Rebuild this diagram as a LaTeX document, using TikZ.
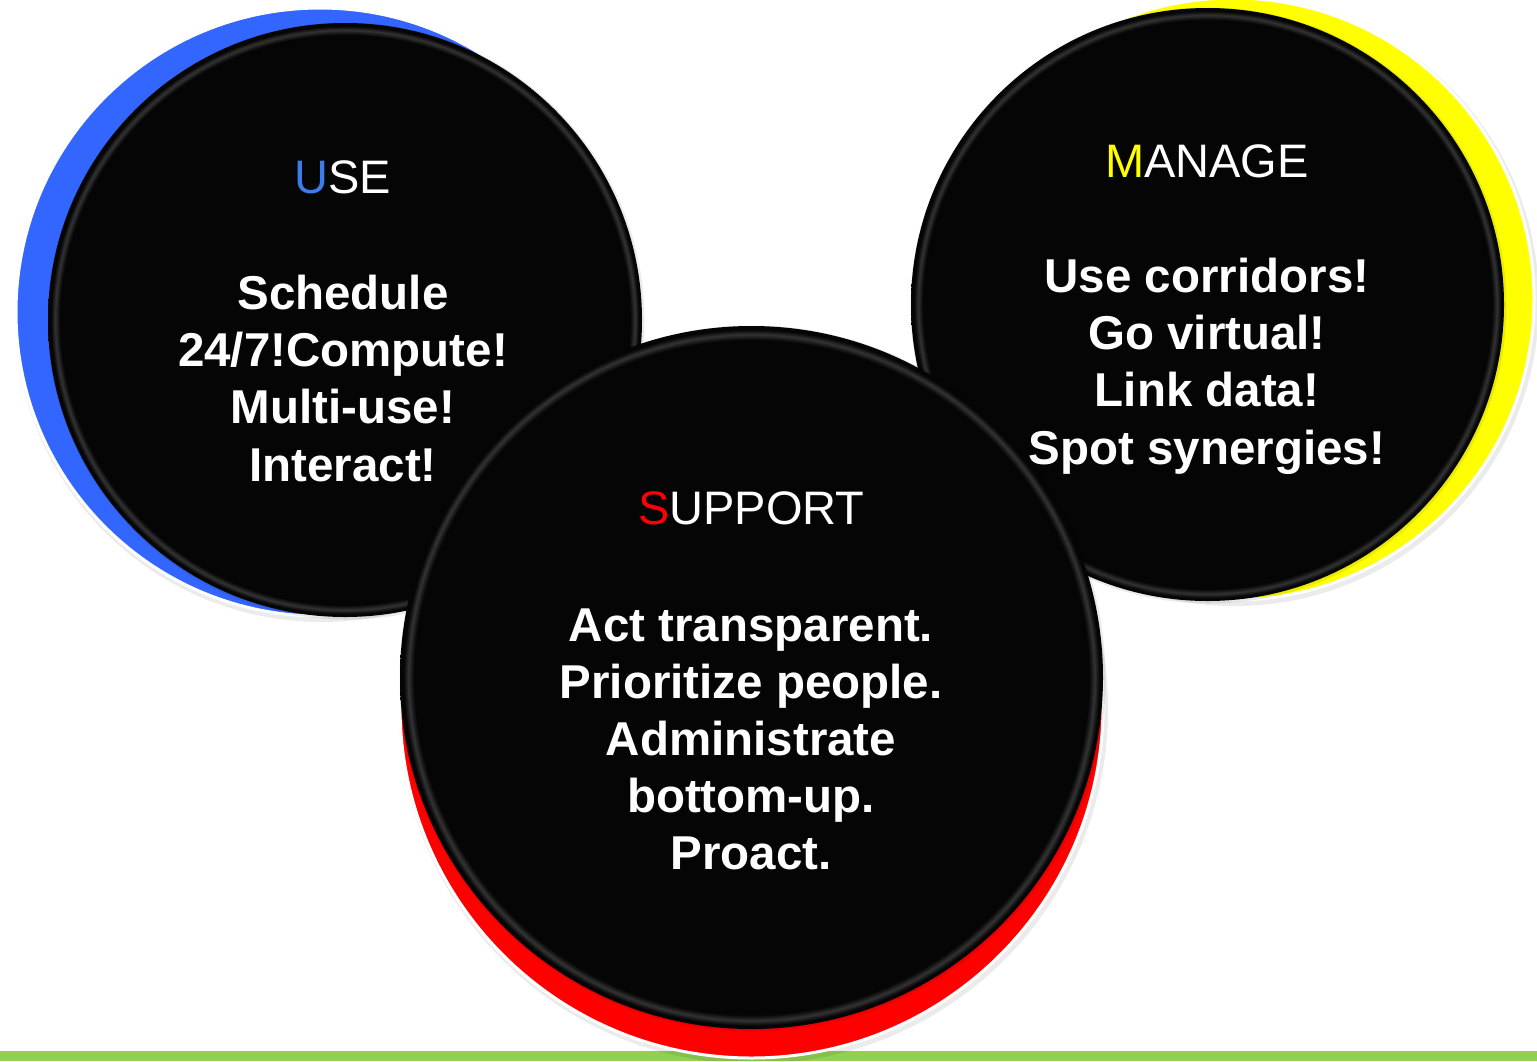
\documentclass[tikz,border=0pt]{standalone}
\usepackage{fontspec}
\newfontfamily\lsans{Liberation Sans}
\definecolor{cblack}{HTML}{050505}
\definecolor{useblue}{HTML}{3366FF}
\definecolor{usetext}{HTML}{3C7DEB}
\definecolor{myyellow}{HTML}{FFFF00}
\definecolor{myred}{HTML}{FF0000}
\definecolor{bargreen}{HTML}{92D050}
\definecolor{bevelgray}{HTML}{333333}
\pgfdeclareradialshading{bevel}{\pgfpoint{0bp}{0bp}}{color(0bp)=(cblack); color(24.0bp)=(cblack); color(24.4bp)=(bevelgray); color(24.75bp)=(cblack); color(25bp)=(cblack); color(50bp)=(cblack)}
\tikzset{
  titletext/.style={text=white, font=\lsans\fontsize{23.5pt}{28pt}\selectfont, inner sep=0pt, anchor=base},
  bodytext/.style={text=white, font=\lsans\bfseries\fontsize{23.75pt}{28pt}\selectfont, inner sep=0pt, anchor=base},
  softshadow/.style={fill=black, opacity=0.08},
  backdisc/.style={draw=white, line width=1.5},
  frontdisc/.style={shading=bevel}
}
\begin{document}
\begin{tikzpicture}[x=0.5pt,y=-0.5pt]
\useasboundingbox (0,0) rectangle (1537,1061);
\fill[white] (0,0) rectangle (1537,1061);
% green bar
\fill[bargreen] (0,1051) rectangle (1537,1061);

% USE circle
\fill[softshadow] (322,315) circle[radius=307];
\draw[backdisc, fill=useblue] (320,312) circle[radius=304];
\fill[softshadow] (346,321) circle[radius=298.5];
\shade[frontdisc] (345,320) circle[radius=297];

% MANAGE circle
\fill[softshadow] (1235,302) circle[radius=304];
\draw[backdisc, fill=myyellow] (1233,299) circle[radius=301];
\fill[softshadow] (1208.5,305.5) circle[radius=298];
\shade[frontdisc] (1207.5,304.5) circle[radius=296.5];

% SUPPORT circle
\fill[softshadow] (753.5,709.5) circle[radius=354.5];
\draw[backdisc, fill=myred] (751.5,706.5) circle[radius=351.5];
\fill[softshadow] (752.5,678.5) circle[radius=353];
\shade[frontdisc] (751.5,677.5) circle[radius=351.5];

% USE text
\node[titletext] (useT) at (343,193) {\textcolor{usetext}{U}SE};
\node[bodytext] (use1) at (343,309) {Schedule};
\node[bodytext] (use2) at (343,366) {24/7!Compute!};
\node[bodytext] (use3) at (343,423) {Multi-use!};
\node[bodytext] (use4) at (343,481) {Interact!};

% MANAGE text
\node[titletext] (manT) at (1207,177) {\textcolor{myyellow}{M}ANAGE};
\node[bodytext] (man1) at (1207,292) {Use corridors!};
\node[bodytext] (man2) at (1207,349) {Go virtual!};
\node[bodytext] (man3) at (1207,406) {Link data!};
\node[bodytext] (man4) at (1207,464) {Spot synergies!};

% SUPPORT text
\node[titletext] (supT) at (751.5,524) {\textcolor{myred}{S}UPPORT};
\node[bodytext] (sup1) at (751,641) {Act transparent.};
\node[bodytext] (sup2) at (751,698) {Prioritize people.};
\node[bodytext] (sup3) at (751,755) {Administrate};
\node[bodytext] (sup4) at (751,812) {bottom-up.};
\node[bodytext] (sup5) at (751,869) {Proact.};
\end{tikzpicture}
\end{document}
